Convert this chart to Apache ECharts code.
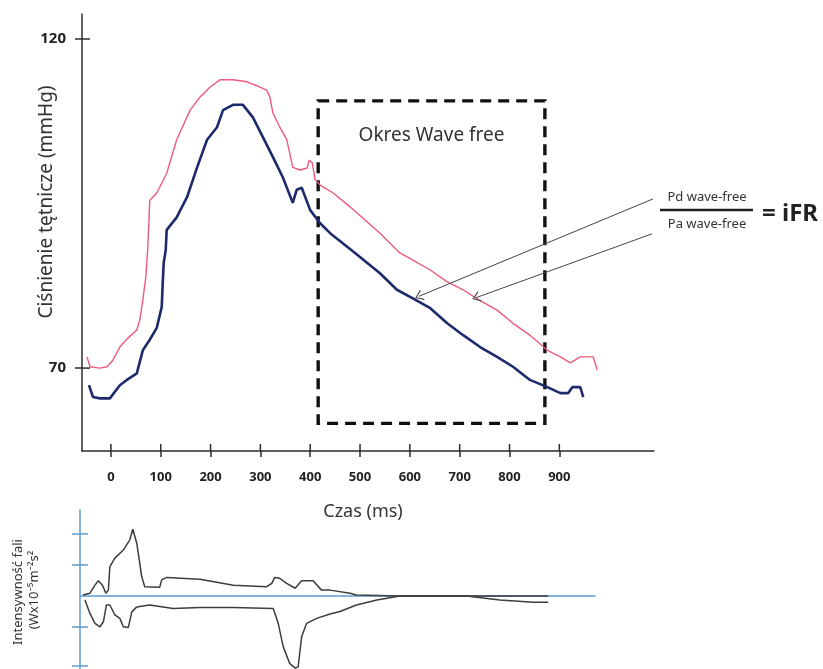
<!DOCTYPE html>
<html><head><meta charset="utf-8">
<script src="https://cdn.jsdelivr.net/npm/echarts@6/dist/echarts.min.js"></script>
<style>html,body{margin:0;padding:0;background:#fff}#c{width:823px;height:669px}</style>
</head><body><div id="c"></div>
<script>
// ---- data ----
const xTickValues = [0, 100, 200, 300, 400, 500, 600, 700, 800, 900];
const yTickValues = [70, 120];
const intensityTicks = [2, 1, -1, -2.25];

// Pa (red) pressure trace: time (ms), pressure (mmHg)
const paTime = [-48,-42,-22,-8,4,18,32,52,58,64,70,74,78,92,112,132,159,179,199,219,245,273,293,313,319,325,339,353,365,380,394,398,404,410,420,446,480,540,580,606,641,675,707,740,775,807,841,876,902,922,942,968,976];
const paValues = [71.7,70.2,70.0,70.2,71.2,73.2,74.4,75.8,77.3,80.3,83.8,88.2,95.5,96.6,99.6,104.7,109.2,111.2,112.7,113.8,113.8,113.5,112.9,112.2,111.2,108.8,106.6,104.7,100.5,100.1,100.4,101.6,101.2,98.6,97.8,96.6,94.5,90.5,87.5,86.4,84.9,83.1,81.9,80.3,78.8,76.8,75.0,72.7,71.7,70.8,71.7,71.7,69.7];

// Pd (navy) pressure trace
const pdTime = [-44,-36,-22,-2,4,18,32,52,64,78,92,102,104,106,110,112,132,153,173,193,213,225,245,265,285,305,325,345,365,373,383,390,400,420,440,490,540,574,606,641,675,707,741,775,807,841,876,902,918,926,942,948];
const pdValues = [67.4,65.6,65.4,65.4,66.0,67.4,68.2,69.2,72.7,74.3,76.1,79.3,82.9,86.0,87.9,91.0,92.9,96.0,100.5,104.7,106.6,109.2,110.0,110.0,108.1,105.1,102.1,99.0,95.1,97.1,97.4,96.0,94.0,92.0,90.5,87.5,84.4,81.9,80.6,79.1,76.8,75.0,73.2,71.7,70.2,68.2,67.1,66.2,66.2,67.1,67.1,65.6];

// Wave intensity (bottom panel)
const wiTimeUpper = [-56,-42,-32,-25,-17,-10,-5,-2,8,25,38,44,48,52,62,68,98,102,112,179,246,313,323,329,339,353,370,383,406,423,440,480,493,580,878];
const wiUpper = [0.03,0.09,0.35,0.49,0.35,0.09,0.19,0.95,1.22,1.48,1.81,2.15,2.15,1.7,0.62,0.3,0.28,0.52,0.6,0.54,0.35,0.3,0.41,0.6,0.57,0.41,0.25,0.49,0.49,0.19,0.19,0.09,0.03,0,0];
const wiTimeLower = [-52,-42,-32,-22,-15,-9,-2,8,18,25,35,42,52,78,125,179,246,326,336,346,359,370,376,383,393,413,440,460,493,534,580,714,781,848,878];
const wiLower = [-0.13,-0.56,-0.88,-0.99,-0.83,-0.29,-0.29,-0.61,-0.72,-0.99,-1.01,-0.51,-0.35,-0.29,-0.4,-0.37,-0.37,-0.4,-0.88,-1.63,-2.17,-2.32,-2.28,-1.31,-0.88,-0.72,-0.58,-0.5,-0.29,-0.13,0,0,-0.13,-0.2,-0.2];

// Wave-free window [start ms, end ms] and [low, high] mmHg
const waveFreeTime = [416, 871];
const waveFreeRange = [61.6, 110.6];
// arrows: [from time, from mmHg, to time, to mmHg]
const arrowPd = [1088, 95.7, 618, 80.9];
const arrowPa = [1086, 90.4, 733, 80.7];

const zip = (a, b) => a.map((t, i) => [t, b[i]]);
const FONT = '"Noto Sans", "Open Sans", sans-serif';
const AX = '#2b2b2b';
const BLUE = '#5c9bd1';
const chevron = 'path://M0,10 L5,0 L10,10 L8.9,10.5 L5,2.2 L1.1,10.5 Z';
const G1 = {left: 82, top: 14, width: 572, height: 437};
const G2 = {left: 80, top: 510, width: 515, height: 159};
const X_RANGE = [-58, 1090], Y_RANGE = [57.4, 123.8];
const X2_RANGE = [-62, 972], Y2_RANGE = [-2.35, 2.77];

// inner halves of the crossing ticks (axis decoration), placed with the same linear axis mapping
const sx = (g, r, t) => g.left + (t - r[0]) / (r[1] - r[0]) * g.width;
const sy = (g, r, v) => g.top + g.height - (v - r[0]) / (r[1] - r[0]) * g.height;
const tickLine = (x1, y1, x2, y2, color) => ({type: 'line', z: 100, silent: true,
  shape: {x1, y1, x2, y2}, style: {stroke: color, lineWidth: 1.5}});
const innerTicks = []
  .concat(xTickValues.map(t => { const x = sx(G1, X_RANGE, t), y = G1.top + G1.height; return tickLine(x, y, x, y - 7, AX); }))
  .concat(yTickValues.map(v => { const y = sy(G1, Y_RANGE, v); return tickLine(G1.left, y, G1.left + 8, y, AX); }))
  .concat(intensityTicks.map(v => { const y = sy(G2, Y2_RANGE, v); return tickLine(G2.left, y, G2.left + 8, y, BLUE); }));

const textGraphic = [
  {type: 'text', x: 47, y: 202, rotation: Math.PI / 2,
   style: {text: 'Ciśnienie tętnicze (mmHg)', font: '19px ' + FONT, fill: '#333', align: 'center', verticalAlign: 'middle'}},
  {type: 'text', x: 363, y: 512,
   style: {text: 'Czas (ms)', font: '18px ' + FONT, fill: '#333', align: 'center', verticalAlign: 'middle'}},
  {type: 'text', x: 18, y: 592, rotation: Math.PI / 2,
   style: {text: 'Intensywność fali', font: '13px ' + FONT, fill: '#333', align: 'center', verticalAlign: 'middle'}},
  {type: 'text', x: 34, y: 590, rotation: Math.PI / 2,
   style: {text: '(Wx10⁻⁵m⁻²s²', font: '13px ' + FONT, fill: '#333', align: 'center', verticalAlign: 'middle'}},
  {type: 'text', x: 707, y: 197,
   style: {text: 'Pd wave-free', font: '13px ' + FONT, fill: '#333', align: 'center', verticalAlign: 'middle'}},
  {type: 'line', shape: {x1: 660, y1: 210, x2: 753, y2: 210}, style: {stroke: '#222', lineWidth: 2.5}},
  {type: 'text', x: 707, y: 224,
   style: {text: 'Pa wave-free', font: '13px ' + FONT, fill: '#333', align: 'center', verticalAlign: 'middle'}},
  {type: 'text', x: 762, y: 214,
   style: {text: '= iFR', font: 'bold 24px ' + FONT, fill: '#222', align: 'left', verticalAlign: 'middle'}}
];

const chart = echarts.init(document.getElementById('c'), null, {renderer: 'canvas'});
chart.setOption({
  animation: false,
  backgroundColor: '#fff',
  grid: [G1, G2],
  xAxis: [
    {gridIndex: 0, type: 'value', min: X_RANGE[0], max: X_RANGE[1], position: 'bottom',
     axisLine: {show: true, onZero: false, lineStyle: {color: AX, width: 1.5}},
     axisTick: {show: true, customValues: xTickValues, length: 6, lineStyle: {color: AX, width: 1.5}},
     axisLabel: {customValues: xTickValues, margin: 20, color: '#222', fontWeight: 'bold', fontSize: 13, fontFamily: FONT},
     splitLine: {show: false}},
    {gridIndex: 1, type: 'value', min: X2_RANGE[0], max: X2_RANGE[1],
     axisLine: {show: true, onZero: true, lineStyle: {color: BLUE, width: 1.5}},
     axisTick: {show: false}, axisLabel: {show: false}, splitLine: {show: false}}
  ],
  yAxis: [
    {gridIndex: 0, type: 'value', min: Y_RANGE[0], max: Y_RANGE[1], position: 'left',
     axisLine: {show: true, onZero: false, lineStyle: {color: AX, width: 1.5}},
     axisTick: {show: true, customValues: yTickValues, length: 7, lineStyle: {color: AX, width: 1.5}},
     axisLabel: {customValues: yTickValues, margin: 16, color: '#222', fontWeight: 'bold', fontSize: 15, fontFamily: FONT},
     splitLine: {show: false}},
    {gridIndex: 1, type: 'value', min: Y2_RANGE[0], max: Y2_RANGE[1], position: 'left',
     axisLine: {show: true, onZero: false, lineStyle: {color: BLUE, width: 1.5}},
     axisTick: {show: true, customValues: intensityTicks, length: 8, lineStyle: {color: BLUE, width: 1.5}},
     axisLabel: {show: false}, splitLine: {show: false}}
  ],
  series: [
    {name: 'Pa', type: 'line', xAxisIndex: 0, yAxisIndex: 0, data: zip(paTime, paValues),
     showSymbol: false, symbol: 'none', lineStyle: {color: '#ef5a78', width: 1.4}, z: 3,
     markArea: {silent: true,
       itemStyle: {color: 'rgba(0,0,0,0)', borderColor: '#111', borderWidth: 3.4, borderType: [11, 7]},
       label: {show: true, position: 'insideTop', offset: [0, 22], color: '#333', fontSize: 19, fontFamily: FONT},
       data: [[{name: 'Okres Wave free', coord: [waveFreeTime[0], waveFreeRange[1]]}, {coord: [waveFreeTime[1], waveFreeRange[0]]}]]},
     markLine: {silent: true, symbol: ['none', chevron], symbolSize: [11, 8],
       lineStyle: {color: '#444', width: 1, type: 'solid'}, label: {show: false},
       data: [
         [{coord: [arrowPd[0], arrowPd[1]]}, {coord: [arrowPd[2], arrowPd[3]]}],
         [{coord: [arrowPa[0], arrowPa[1]]}, {coord: [arrowPa[2], arrowPa[3]]}]
       ]}},
    {name: 'Pd', type: 'line', xAxisIndex: 0, yAxisIndex: 0, data: zip(pdTime, pdValues),
     showSymbol: false, symbol: 'none', lineStyle: {color: '#1d2a6b', width: 2.6}, z: 4},
    {name: 'WI+', type: 'line', xAxisIndex: 1, yAxisIndex: 1, data: zip(wiTimeUpper, wiUpper),
     showSymbol: false, symbol: 'none', lineStyle: {color: '#3d3d3d', width: 1.5}},
    {name: 'WI-', type: 'line', xAxisIndex: 1, yAxisIndex: 1, data: zip(wiTimeLower, wiLower),
     showSymbol: false, symbol: 'none', lineStyle: {color: '#3d3d3d', width: 1.5}}
  ],
  graphic: textGraphic.concat(innerTicks)
});
</script></body></html>
